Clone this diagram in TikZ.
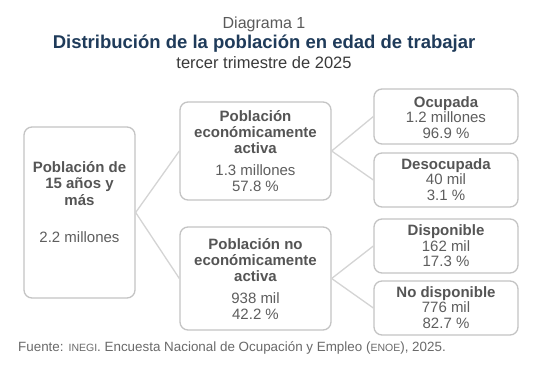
\documentclass[tikz,border=0pt]{standalone}
\usepackage{fontspec}
\setmainfont{Liberation Sans}
\definecolor{boxgray}{HTML}{C4C4C4}
\definecolor{linkgray}{HTML}{D4D4D4}
\definecolor{txtgray}{HTML}{5E5E5E}
\definecolor{boldgray}{HTML}{555555}
\definecolor{titleblue}{HTML}{1F3B5A}
\definecolor{titlegray}{HTML}{5A5A5A}
\definecolor{subgray}{HTML}{3A3A3A}
\definecolor{footgray}{HTML}{6A6A6A}
\newcommand\mysmc[1]{{\fontsize{10.5}{10.5}\selectfont #1}}
\newcommand\bl[1]{\textbf{\textcolor{boldgray}{#1}}}
\begin{document}
\begin{tikzpicture}[x=1pt,y=-1pt,
  box/.style={draw=boxgray, line width=1.3pt, rounded corners=8pt, fill=white, inner sep=0pt},
  txt/.style={align=center, text=txtgray, font=\fontsize{15}{16}\selectfont, inner sep=0pt},
  link/.style={draw=linkgray, line width=1.3pt}]
\useasboundingbox (0,0) rectangle (538,382);
\fill[white] (0,0) rectangle (538,382);

% titles
\node[text=titlegray, font=\fontsize{16}{18}\selectfont, inner sep=0pt] (d1) at (264,24) {Diagrama 1};
\node[text=titleblue, font=\bfseries\fontsize{18.5}{20}\selectfont, inner sep=0pt] (d2) at (264,44) {Distribución de la población en edad de trabajar};
\node[text=subgray, font=\fontsize{16.5}{18}\selectfont, inner sep=0pt] (d3) at (264,63) {tercer trimestre de 2025};

% boxes
\node[box, minimum width=111pt, minimum height=171pt] (b0) at (79.5,212.5) {};
\node[box, minimum width=151pt, minimum height=98pt] (b1) at (255.5,151) {};
\node[box, minimum width=151pt, minimum height=103pt] (b2) at (255.5,278.5) {};
\node[box, minimum width=144pt, minimum height=55pt] (c1) at (446,116.5) {};
\node[box, minimum width=144pt, minimum height=54pt] (c2) at (446,180) {};
\node[box, minimum width=144pt, minimum height=54pt] (c3) at (446,246) {};
\node[box, minimum width=144pt, minimum height=54pt] (c4) at (446,308) {};

% connectors
\draw[link] (b0.east) -- (b1.west);
\draw[link] (b0.east) -- (b2.west);
\draw[link] (b1.east) -- (c1.west);
\draw[link] (b1.east) -- (c2.west);
\draw[link] (b2.east) -- (c3.west);
\draw[link] (b2.east) -- (c4.west);

% texts
\node[txt, font=\fontsize{15}{16.5}\selectfont] (t0) at (79.5,202) {\bl{Población de}\\\bl{15 años y}\\\bl{más}\\[21pt]2.2 millones};
\node[txt] (t1) at (255.5,151.5) {\bl{Población}\\\bl{económicamente}\\\bl{activa}\\[6pt]1.3 millones\\57.8 \%};
\node[txt] (t2) at (255.5,279) {\bl{Población no}\\\bl{económicamente}\\\bl{activa}\\[6pt]938 mil\\42.2 \%};
\node[txt, font=\fontsize{15}{15.5}\selectfont] (u1) at (446,117.5) {\bl{Ocupada}\\1.2 millones\\96.9 \%};
\node[txt, font=\fontsize{15}{15.5}\selectfont] (u2) at (446,179.5) {\bl{Desocupada}\\40 mil\\3.1 \%};
\node[txt, font=\fontsize{15}{15.5}\selectfont] (u3) at (446,246) {\bl{Disponible}\\162 mil\\17.3 \%};
\node[txt, font=\fontsize{15}{15.5}\selectfont] (u4) at (446,307.5) {\bl{No disponible}\\776 mil\\82.7 \%};

% source
\node[anchor=west, text=footgray, font=\fontsize{13.4}{15}\selectfont, inner sep=0pt] (src) at (18,348) {Fuente: \mysmc{INEGI}. Encuesta Nacional de Ocupación y Empleo (\mysmc{ENOE}), 2025.};
\end{tikzpicture}
\end{document}
